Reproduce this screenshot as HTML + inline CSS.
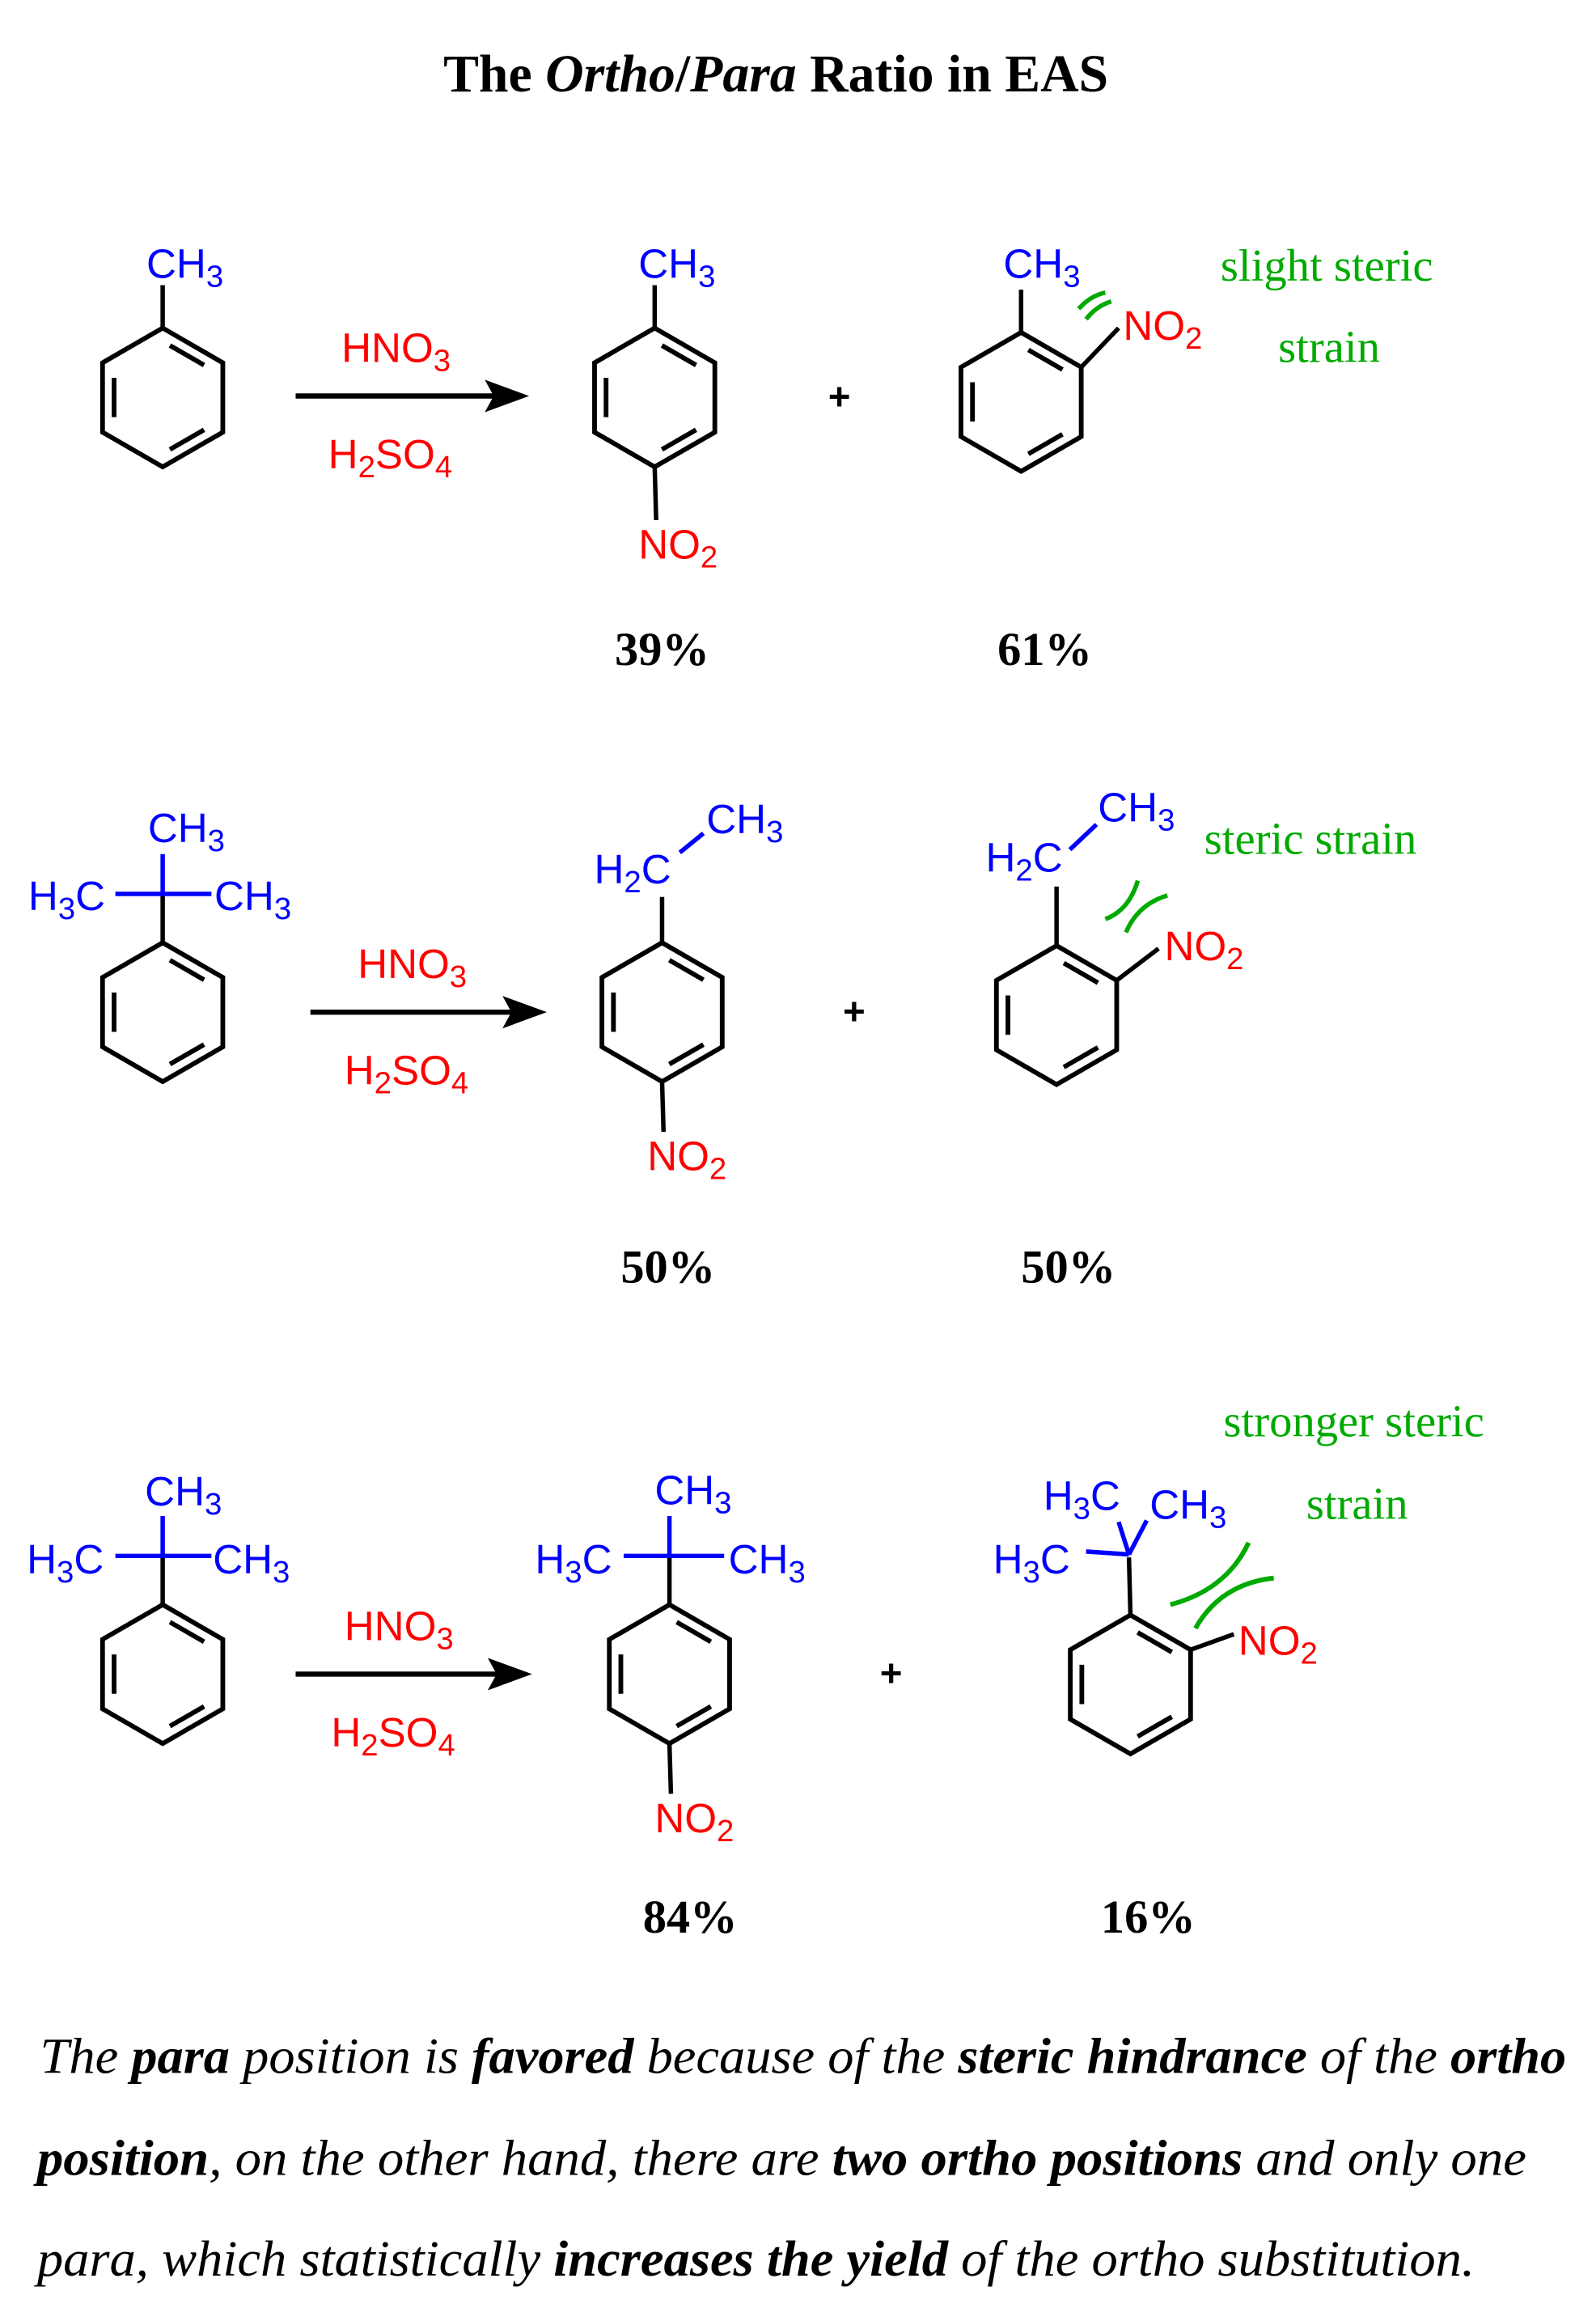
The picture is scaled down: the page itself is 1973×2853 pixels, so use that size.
<!DOCTYPE html>
<html><head><meta charset="utf-8"><style>
html,body{margin:0;padding:0;background:#fff;}
svg{display:block;}
.c{font-family:"Liberation Sans",sans-serif;font-size:28px;}
.b{fill:#0000ff}.r{fill:#ff0000}.g{fill:#00aa00;font-family:"Liberation Serif",serif;font-size:31px;}
.p{font-family:"Liberation Serif",serif;font-weight:bold;font-size:32px;fill:#000}
.t{font-family:"Liberation Serif",serif;font-size:34px;font-style:italic;fill:#000}
</style></head><body>
<svg width="1973" height="2853" viewBox="0 0 1080 1562" xmlns="http://www.w3.org/2000/svg">
<defs>
<g id="ring" fill="none" stroke="#000" stroke-width="3.2" stroke-linejoin="miter">
<polygon points="0,-47 40.7,-23.5 40.7,23.5 0,47 -40.7,23.5 -40.7,-23.5"/>
<line x1="4.9" y1="-35.2" x2="28" y2="-21.9"/>
<line x1="-32.9" y1="-13.3" x2="-32.9" y2="13.3"/>
<line x1="28" y1="21.9" x2="4.9" y2="35.2"/>
</g>
</defs>

<text x="525" y="62" text-anchor="middle" style="font-family:'Liberation Serif',serif;font-weight:bold;font-size:36px">The <tspan font-style="italic">Ortho</tspan>/<tspan font-style="italic">Para</tspan> Ratio in EAS</text>

<!-- ROW 1 -->
<use href="#ring" x="110" y="269"/>
<line x1="110" y1="222" x2="110" y2="193" stroke="#000" stroke-width="3"/>
<text class="c b" x="99" y="188">CH<tspan font-size="21" dy="6">3</tspan></text>
<line x1="200" y1="268" x2="335" y2="268" stroke="#000" stroke-width="3.5"/>
<polygon points="358,268 328,257 334,268 328,279" fill="#000"/>
<text class="c r" x="231" y="245">HNO<tspan font-size="21" dy="6">3</tspan></text>
<text class="c r" x="222" y="317">H<tspan font-size="21" dy="6">2</tspan><tspan dy="-6">SO</tspan><tspan font-size="21" dy="6">4</tspan></text>

<use href="#ring" x="443" y="269"/>
<line x1="443" y1="222" x2="443" y2="193" stroke="#000" stroke-width="3"/>
<text class="c b" x="432" y="188">CH<tspan font-size="21" dy="6">3</tspan></text>
<line x1="443" y1="316" x2="444" y2="352" stroke="#000" stroke-width="3"/>
<text class="c r" x="432" y="378">NO<tspan font-size="21" dy="6">2</tspan></text>
<text x="568" y="277" text-anchor="middle" style="font-family:'Liberation Sans',sans-serif;font-size:26px;font-weight:bold">+</text>

<use href="#ring" x="691" y="272"/>
<line x1="691" y1="225" x2="691" y2="196" stroke="#000" stroke-width="3"/>
<text class="c b" x="679" y="188">CH<tspan font-size="21" dy="6">3</tspan></text>
<line x1="731.7" y1="248.5" x2="757" y2="222" stroke="#000" stroke-width="3"/>
<text class="c r" x="760" y="230">NO<tspan font-size="21" dy="6">2</tspan></text>
<path d="M730,209 Q738,200 748,198 M735,216 Q742,207 752,204" stroke="#00aa00" stroke-width="3" fill="none"/>
<text class="g" x="826" y="190">slight steric</text>
<text class="g" x="865" y="245">strain</text>
<text class="p" x="416" y="450">39%</text>
<text class="p" x="675" y="450">61%</text>

<!-- ROW 2 -->
<use href="#ring" x="110" y="685"/>
<line x1="110" y1="638" x2="110" y2="605" stroke="#000" stroke-width="3"/>
<line x1="110" y1="605" x2="110" y2="578" stroke="#0000ff" stroke-width="3"/>
<line x1="78" y1="605" x2="143" y2="605" stroke="#0000ff" stroke-width="3"/>
<text class="c b" x="100" y="570">CH<tspan font-size="21" dy="6">3</tspan></text>
<text class="c b" x="19" y="616">H<tspan font-size="21" dy="6">3</tspan><tspan dy="-6">C</tspan></text>
<text class="c b" x="145" y="616">CH<tspan font-size="21" dy="6">3</tspan></text>
<line x1="210" y1="685" x2="347" y2="685" stroke="#000" stroke-width="3.5"/>
<polygon points="370,685 340,674 346,685 340,696" fill="#000"/>
<text class="c r" x="242" y="662">HNO<tspan font-size="21" dy="6">3</tspan></text>
<text class="c r" x="233" y="734">H<tspan font-size="21" dy="6">2</tspan><tspan dy="-6">SO</tspan><tspan font-size="21" dy="6">4</tspan></text>

<use href="#ring" x="448" y="685"/>
<line x1="448" y1="638" x2="448" y2="607" stroke="#000" stroke-width="3"/>
<text class="c b" x="402" y="598">H<tspan font-size="21" dy="6">2</tspan><tspan dy="-6">C</tspan></text>
<line x1="460" y1="577" x2="476" y2="564" stroke="#0000ff" stroke-width="3"/>
<text class="c b" x="478" y="564">CH<tspan font-size="21" dy="6">3</tspan></text>
<line x1="448" y1="732" x2="449" y2="766" stroke="#000" stroke-width="3"/>
<text class="c r" x="438" y="792">NO<tspan font-size="21" dy="6">2</tspan></text>
<text x="578" y="693" text-anchor="middle" style="font-family:'Liberation Sans',sans-serif;font-size:26px;font-weight:bold">+</text>

<use href="#ring" x="715" y="687"/>
<line x1="715" y1="640" x2="715" y2="600" stroke="#000" stroke-width="3"/>
<text class="c b" x="667" y="590">H<tspan font-size="21" dy="6">2</tspan><tspan dy="-6">C</tspan></text>
<line x1="724" y1="575" x2="742" y2="558" stroke="#0000ff" stroke-width="3"/>
<text class="c b" x="743" y="556">CH<tspan font-size="21" dy="6">3</tspan></text>
<line x1="755.7" y1="663.5" x2="784" y2="642" stroke="#000" stroke-width="3"/>
<text class="c r" x="788" y="650">NO<tspan font-size="21" dy="6">2</tspan></text>
<path d="M748,622 Q764,616 770,596 M762,631 Q770,612 790,606" stroke="#00aa00" stroke-width="3" fill="none"/>
<text class="g" x="815" y="578">steric strain</text>
<text class="p" x="420" y="868">50%</text>
<text class="p" x="691" y="868">50%</text>

<!-- ROW 3 -->
<use href="#ring" x="110" y="1133"/>
<line x1="110" y1="1086" x2="110" y2="1053" stroke="#000" stroke-width="3"/>
<line x1="110" y1="1053" x2="110" y2="1026" stroke="#0000ff" stroke-width="3"/>
<line x1="78" y1="1053" x2="143" y2="1053" stroke="#0000ff" stroke-width="3"/>
<text class="c b" x="98" y="1019">CH<tspan font-size="21" dy="6">3</tspan></text>
<text class="c b" x="18" y="1065">H<tspan font-size="21" dy="6">3</tspan><tspan dy="-6">C</tspan></text>
<text class="c b" x="144" y="1065">CH<tspan font-size="21" dy="6">3</tspan></text>
<line x1="200" y1="1133" x2="337" y2="1133" stroke="#000" stroke-width="3.5"/>
<polygon points="360,1133 330,1122 336,1133 330,1144" fill="#000"/>
<text class="c r" x="233" y="1110">HNO<tspan font-size="21" dy="6">3</tspan></text>
<text class="c r" x="224" y="1182">H<tspan font-size="21" dy="6">2</tspan><tspan dy="-6">SO</tspan><tspan font-size="21" dy="6">4</tspan></text>

<use href="#ring" x="453" y="1133"/>
<line x1="453" y1="1086" x2="453" y2="1053" stroke="#000" stroke-width="3"/>
<line x1="453" y1="1053" x2="453" y2="1026" stroke="#0000ff" stroke-width="3"/>
<line x1="422" y1="1053" x2="490" y2="1053" stroke="#0000ff" stroke-width="3"/>
<text class="c b" x="443" y="1018">CH<tspan font-size="21" dy="6">3</tspan></text>
<text class="c b" x="362" y="1065">H<tspan font-size="21" dy="6">3</tspan><tspan dy="-6">C</tspan></text>
<text class="c b" x="493" y="1065">CH<tspan font-size="21" dy="6">3</tspan></text>
<line x1="453" y1="1180" x2="454" y2="1214" stroke="#000" stroke-width="3"/>
<text class="c r" x="443" y="1240">NO<tspan font-size="21" dy="6">2</tspan></text>
<text x="603" y="1141" text-anchor="middle" style="font-family:'Liberation Sans',sans-serif;font-size:26px;font-weight:bold">+</text>

<use href="#ring" x="765" y="1140"/>
<line x1="765" y1="1093" x2="764" y2="1054" stroke="#000" stroke-width="3"/>
<line x1="735" y1="1050" x2="764" y2="1052" stroke="#0000ff" stroke-width="3"/>
<line x1="764" y1="1052" x2="757" y2="1030" stroke="#0000ff" stroke-width="3"/>
<line x1="764" y1="1052" x2="776" y2="1029" stroke="#0000ff" stroke-width="3"/>
<text class="c b" x="706" y="1022">H<tspan font-size="21" dy="6">3</tspan><tspan dy="-6">C</tspan></text>
<text class="c b" x="778" y="1028">CH<tspan font-size="21" dy="6">3</tspan></text>
<text class="c b" x="672" y="1065">H<tspan font-size="21" dy="6">3</tspan><tspan dy="-6">C</tspan></text>
<line x1="805.7" y1="1116.5" x2="835" y2="1106" stroke="#000" stroke-width="3"/>
<text class="c r" x="838" y="1120">NO<tspan font-size="21" dy="6">2</tspan></text>
<path d="M792,1086 Q830,1076 845,1044 M809,1102 Q826,1072 862,1068" stroke="#00aa00" stroke-width="3.2" fill="none"/>
<text class="g" x="828" y="972">stronger steric</text>
<text class="g" x="884" y="1028">strain</text>
<text class="p" x="435" y="1308">84%</text>
<text class="p" x="745" y="1308">16%</text>

<!-- paragraph -->
<text class="t" x="27" y="1403" textLength="1033" lengthAdjust="spacingAndGlyphs">The <tspan font-weight="bold">para</tspan> position is <tspan font-weight="bold">favored</tspan> because of the <tspan font-weight="bold">steric hindrance</tspan> of the <tspan font-weight="bold">ortho</tspan></text>
<text class="t" x="25" y="1472" textLength="1008" lengthAdjust="spacingAndGlyphs"><tspan font-weight="bold">position</tspan>, on the other hand, there are <tspan font-weight="bold">two ortho positions</tspan> and only one</text>
<text class="t" x="25" y="1540" textLength="973" lengthAdjust="spacingAndGlyphs">para, which statistically <tspan font-weight="bold">increases the yield</tspan> of the ortho substitution.</text>
</svg>
</body></html>
